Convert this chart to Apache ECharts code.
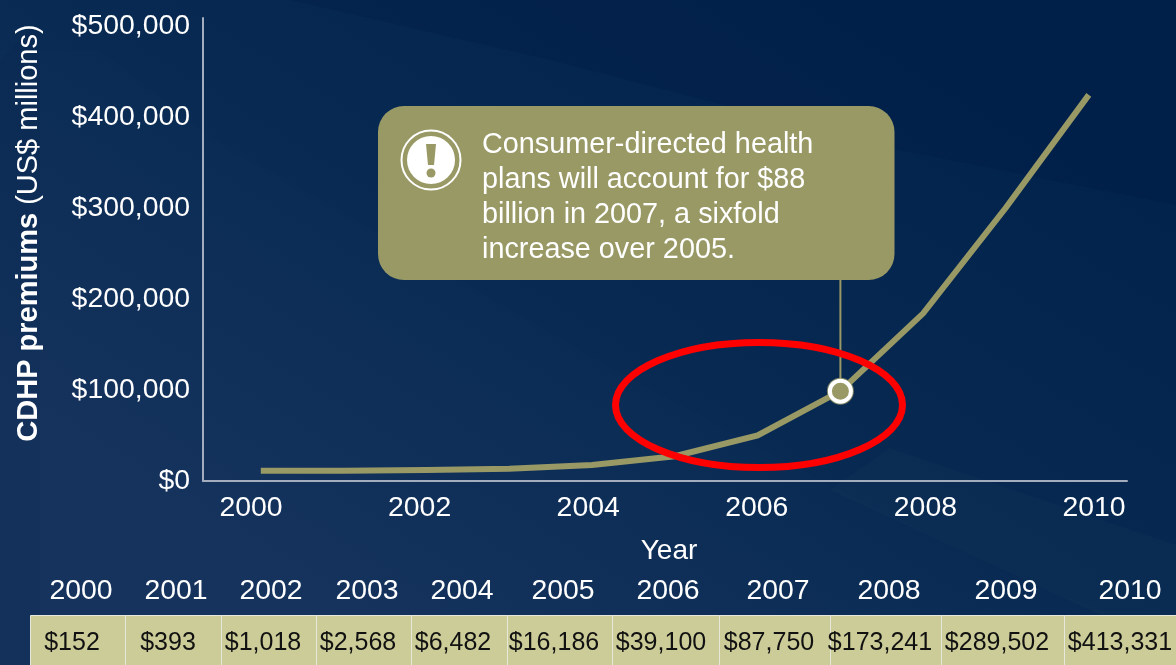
<!DOCTYPE html>
<html>
<head>
<meta charset="utf-8">
<style>html,body{margin:0;padding:0;background:#0c2a55}#chart{width:1176px;height:665px}</style>
<script src="https://cdn.jsdelivr.net/npm/echarts@6/dist/echarts.min.js"></script>
</head>
<body>
<div id="chart"></div>
<script>
// Premium figures in US$ millions
const years = ['2000','2001','2002','2003','2004','2005','2006','2007','2008','2009','2010'];
const premiums = [152,393,1018,2568,6482,16186,39100,87750,173241,289502,413331];
const axisYears = ['2000','2001','2002','2003','2004','2005','2006','2007','2008','2009','2010'];
const calloutYear = '2007';
const calloutLines = ['Consumer-directed health','plans will account for $88','billion in 2007, a sixfold','increase over 2005.'];

// Layout constants
const FONT = '"Liberation Sans", Arial, sans-serif';
const OLIVE = '#999966';
const AXIS_BOTTOM = 481, AXIS_TOP = 18;
const AXIS_MAX = 508791;
const CURVE_LIFT = 11000;      // the curve floats slightly above the baseline
const cellEdges = [30,125,221,316,411,507,612,719,830,941,1064,1180];
const cellCenters = [72,168,263,358,453,554,661,769,880,997,1120];
const headerCenters = [81,176,271,367,462,563,668,778,889,1006,1130];

const usd = v => '$' + v.toLocaleString('en-US');
const gridHeight = AXIS_BOTTOM - AXIS_TOP;
const calloutValue = premiums[years.indexOf(calloutYear)];
const leaderTop = (AXIS_BOTTOM - 280) / gridHeight * AXIS_MAX - CURVE_LIFT;

// Soft diagonal swaths in the slide backdrop
const backdrop = [
  {points:[[290,0],[1176,0],[1176,205],[890,148],[550,60]], fill:'rgba(0,24,70,0.22)'},
  {points:[[100,50],[207,135],[610,367],[840,490],[1000,570],[1176,640],[1176,665],[0,665],[0,50]], fill:'rgba(255,255,255,0.006)'},
  {points:[[890,448],[1176,545],[1176,650],[830,490]], fill:'rgba(255,255,255,0.014)'},
  {points:[[0,60],[40,20],[40,665],[0,665]], fill:'rgba(0,24,70,0.07)'}
];

const graphics = [];
backdrop.forEach(b => graphics.push({type:'polygon', silent:true, z:-10,
  shape:{points:b.points}, style:{fill:b.fill}}));

// Red emphasis ring around the 2005-2007 stretch
graphics.push({type:'ellipse', silent:true, z:20,
  shape:{cx:759, cy:405, rx:143.5, ry:62.5},
  style:{fill:null, stroke:'#ff0000', lineWidth:7}});

// Callout box
graphics.push({type:'rect', silent:true, z:20,
  shape:{x:378, y:106, width:516.5, height:174, r:26}, style:{fill:OLIVE}});
graphics.push({type:'text', silent:true, z:21, x:482, y:127.5,
  style:{text:calloutLines.join('\n'), fill:'#ffffff', font:'28.8px '+FONT, lineHeight:35, align:'left', verticalAlign:'top'}});

// Exclamation badge
graphics.push({type:'circle', silent:true, z:21, shape:{cx:431, cy:160, r:29.5}, style:{fill:null, stroke:'#ffffff', lineWidth:2}});
graphics.push({type:'circle', silent:true, z:21, shape:{cx:431, cy:160, r:24}, style:{fill:'#ffffff'}});
graphics.push({type:'polygon', silent:true, z:22, shape:{points:[[426,144],[436,144],[434,165],[428,165]]}, style:{fill:OLIVE}});
graphics.push({type:'circle', silent:true, z:22, shape:{cx:431, cy:173, r:4.5}, style:{fill:OLIVE}});

// Data strip below the chart
years.forEach((y,i) => {
  graphics.push({type:'text', silent:true, z:5, x:headerCenters[i], y:591,
    style:{text:y, fill:'#ffffff', font:'28.4px '+FONT, align:'center', verticalAlign:'middle'}});
  graphics.push({type:'rect', silent:true, z:5,
    shape:{x:cellEdges[i]+0.5, y:615.5, width:cellEdges[i+1]-cellEdges[i], height:60},
    style:{fill:'#cccc99', stroke:'#e6e8dc', lineWidth:1}});
  graphics.push({type:'text', silent:true, z:6, x:cellCenters[i], y:643,
    style:{text:usd(premiums[i]), fill:'#111111', font:'25px '+FONT, align:'center', verticalAlign:'middle'}});
});

const chart = echarts.init(document.getElementById('chart'), null, {renderer:'canvas'});
chart.setOption({
  animation:false,
  backgroundColor:{type:'linear', x:0.7, y:0, x2:0.35, y2:1, colorStops:[
    {offset:0, color:'#02234b'},{offset:0.5, color:'#082a52'},{offset:1, color:'#14325c'}]},
  grid:[
    {left:203, width:924, top:AXIS_TOP, height:gridHeight, outerBoundsMode:'none'},     // axis frame
    {left:208.85, width:927.3, top:AXIS_TOP, height:gridHeight, outerBoundsMode:'none'}, // x tick labels
    {left:219.4, width:910.8, top:AXIS_TOP, height:gridHeight, outerBoundsMode:'none'}   // curve
  ],
  xAxis:[
    {gridIndex:0, type:'category', data:axisYears, boundaryGap:true,
     axisLine:{lineStyle:{color:'#a3adbd', width:2}}, axisTick:{show:false}, axisLabel:{show:false}},
    {gridIndex:1, type:'category', data:axisYears, boundaryGap:true,
     name:'Year', nameLocation:'middle', nameGap:56,
     nameTextStyle:{color:'#ffffff', fontSize:28, fontFamily:FONT, padding:[0,7,0,0]},
     axisLine:{show:false}, axisTick:{show:false},
     axisLabel:{color:'#ffffff', fontSize:28.4, fontFamily:FONT, interval:1, margin:13}},
    {gridIndex:2, type:'category', data:years, boundaryGap:true, show:false}
  ],
  yAxis:[
    {gridIndex:0, type:'value', min:0, max:AXIS_MAX, interval:100000,
     splitLine:{show:false}, axisTick:{show:false},
     axisLine:{show:true, lineStyle:{color:'#a3adbd', width:2}},
     axisLabel:{color:'#ffffff', fontSize:28.4, fontFamily:FONT, margin:13, showMaxLabel:false,
       padding:[0,0,4,0], formatter:usd},
     name:'{b|CDHP premiums}{r|(US$ millions)}', nameLocation:'middle', nameRotate:90, nameGap:160,
     nameTextStyle:{color:'#ffffff', padding:[0,0,0,33], rich:{
       b:{fontSize:29, fontWeight:'bold', fontFamily:FONT, color:'#ffffff'},
       r:{fontSize:29, fontFamily:FONT, color:'#ffffff', padding:[0,0,0,8]}}}},
    {gridIndex:1, type:'value', min:0, max:AXIS_MAX, show:false, splitLine:{show:false}},
    {gridIndex:2, type:'value', min:-CURVE_LIFT, max:AXIS_MAX-CURVE_LIFT, show:false, splitLine:{show:false}}
  ],
  series:[
    {name:'Leader', type:'line', xAxisIndex:2, yAxisIndex:2, z:3, silent:true, symbol:'none',
     data:[[calloutYear, calloutValue],[calloutYear, leaderTop]],
     lineStyle:{color:OLIVE, width:2}},
    {name:'CDHP premiums', type:'line', xAxisIndex:2, yAxisIndex:2, z:4, silent:true, symbol:'none', smooth:false,
     data:premiums, lineStyle:{color:OLIVE, width:6, cap:'butt', join:'miter'}},
    {name:'2007 rim', type:'scatter', xAxisIndex:2, yAxisIndex:2, z:5, silent:true, symbolSize:27,
     data:[[calloutYear, calloutValue]], itemStyle:{color:OLIVE}},
    {name:'2007 point', type:'scatter', xAxisIndex:2, yAxisIndex:2, z:6, silent:true, symbolSize:21,
     data:[[calloutYear, calloutValue]], itemStyle:{color:OLIVE, borderColor:'#ffffff', borderWidth:4, opacity:1}}
  ],
  graphic:{elements:graphics}
});
</script>
</body>
</html>
